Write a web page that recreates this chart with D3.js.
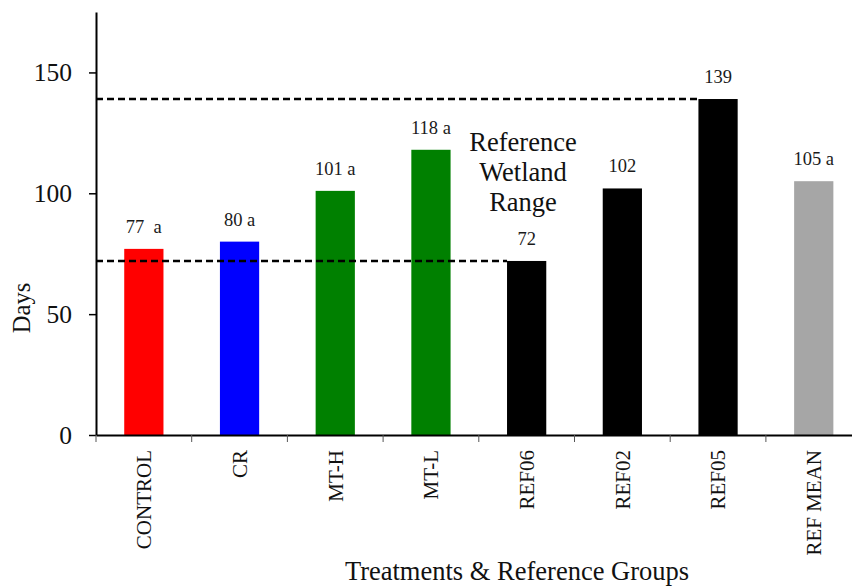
<!DOCTYPE html>
<html>
<head>
<meta charset="utf-8">
<script src="https://cdn.jsdelivr.net/npm/d3@7"></script>
<style>
  body { margin: 0; background: #fff; }
  svg text { font-family: "Liberation Serif", "Times New Roman", Times, serif; }
</style>
</head>
<body>
<div id="chart"></div>
<script>
// chart data
var categories = ["CONTROL", "CR", "MT-H", "MT-L", "REF06", "REF02", "REF05", "REF MEAN"];
var days = [77, 80, 101, 118, 72, 102, 139, 105];
var barLabels = ["77  a", "80 a", "101 a", "118 a", "72", "102", "139", "105 a"];
var yTicks = [0, 50, 100, 150];
var refLowGroup = "REF06";
var refHighGroup = "REF05";

var svgWidth = 852;
var svgHeight = 586;
var margin = { top: 12, left: 96, bottom: 151 };
var plotBottom = svgHeight - margin.bottom;
var serif = "'Liberation Serif', 'Times New Roman', Times, serif";

var svg = d3.select("#chart")
  .append("svg")
  .attr("width", svgWidth)
  .attr("height", svgHeight);

var data = categories.map(function(c, i) {
  return { name: c, value: days[i], label: barLabels[i] };
});

// band step ~95.7px, plot runs past the right edge like the original
var x = d3.scaleBand()
  .domain(categories)
  .range([margin.left, margin.left + 95.7 * categories.length])
  .paddingInner(0.59)
  .paddingOuter(0.295);

var y = d3.scaleLinear()
  .domain([0, 175])
  .range([plotBottom, margin.top]);

var color = d3.scaleOrdinal()
  .domain(categories)
  .range(["#ff0000", "#0000ff", "#008000", "#008000", "#000000", "#000000", "#000000", "#a6a6a6"]);

// bars
svg.append("g")
  .selectAll("rect")
  .data(data)
  .enter()
  .append("rect")
  .attr("x", function(d) { return x(d.name); })
  .attr("y", function(d) { return y(d.value); })
  .attr("width", x.bandwidth())
  .attr("height", function(d) { return y(0) - y(d.value); })
  .attr("fill", function(d) { return color(d.name); });

// reference range dashed lines
var refLines = [refLowGroup, refHighGroup].map(function(g) {
  return data.find(function(d) { return d.name === g; });
});
svg.append("g")
  .selectAll("line")
  .data(refLines)
  .enter()
  .append("line")
  .attr("x1", margin.left)
  .attr("x2", function(d) { return x(d.name); })
  .attr("y1", function(d) { return y(d.value); })
  .attr("y2", function(d) { return y(d.value); })
  .attr("stroke", "#000")
  .attr("stroke-width", 2.5)
  .attr("stroke-dasharray", "7,4");

// value labels
svg.append("g")
  .selectAll("text")
  .data(data)
  .enter()
  .append("text")
  .attr("x", function(d) { return x(d.name) + x.bandwidth() / 2; })
  .attr("y", function(d) { return y(d.value) - 16; })
  .attr("text-anchor", "middle")
  .style("font-family", serif)
  .style("font-size", "18.5px")
  .style("white-space", "pre")
  .attr("fill", "#1a1a1a")
  .text(function(d) { return d.label; });

// annotation
var note = svg.append("text")
  .attr("text-anchor", "middle")
  .style("font-family", serif)
  .style("font-size", "26.5px")
  .attr("fill", "#111");
["Reference", "Wetland", "Range"].forEach(function(t, i) {
  note.append("tspan")
    .attr("x", 523)
    .attr("y", 151 + i * 30)
    .text(t);
});

// y axis
var yAxis = svg.append("g")
  .attr("transform", "translate(" + margin.left + ",0)")
  .call(d3.axisLeft(y).tickValues(yTicks).tickSize(7).tickSizeOuter(0).tickPadding(17));
yAxis.attr("font-family", null);
yAxis.select(".domain").attr("stroke-width", 2).attr("stroke", "#000");
yAxis.selectAll(".tick line").attr("stroke-width", 1.5);
yAxis.selectAll(".tick text")
  .style("font-family", serif)
  .style("font-size", "25.5px")
  .attr("fill", "#111");

// x axis: labels at band centres, ticks at band edges
var xAxis = svg.append("g")
  .attr("transform", "translate(0," + plotBottom + ")")
  .call(d3.axisBottom(x).tickSize(0).tickSizeOuter(0));
xAxis.attr("font-family", null);
xAxis.select(".domain").attr("stroke-width", 2).attr("stroke", "#000");
xAxis.selectAll(".tick text")
  .style("font-family", serif)
  .style("font-size", "21px")
  .attr("fill", "#111")
  .attr("text-anchor", "end")
  .attr("transform", "rotate(-90)")
  .attr("x", -15)
  .attr("y", 0)
  .attr("dy", "0.35em");

var edges = d3.range(categories.length + 1).map(function(i) {
  return margin.left + i * x.step();
});
xAxis.selectAll(".edge")
  .data(edges)
  .enter()
  .append("line")
  .attr("class", "edge")
  .attr("x1", function(d) { return d; })
  .attr("x2", function(d) { return d; })
  .attr("y1", 0)
  .attr("y2", 7)
  .attr("stroke", "#555")
  .attr("stroke-width", 1);

// axis titles
svg.append("text")
  .attr("transform", "translate(30,308) rotate(-90)")
  .attr("text-anchor", "middle")
  .style("font-family", serif)
  .style("font-size", "24.5px")
  .attr("fill", "#111")
  .text("Days");

svg.append("text")
  .attr("x", 517)
  .attr("y", 580)
  .attr("text-anchor", "middle")
  .style("font-family", serif)
  .style("font-size", "26.5px")
  .attr("fill", "#111")
  .text("Treatments & Reference Groups");
</script>
</body>
</html>
